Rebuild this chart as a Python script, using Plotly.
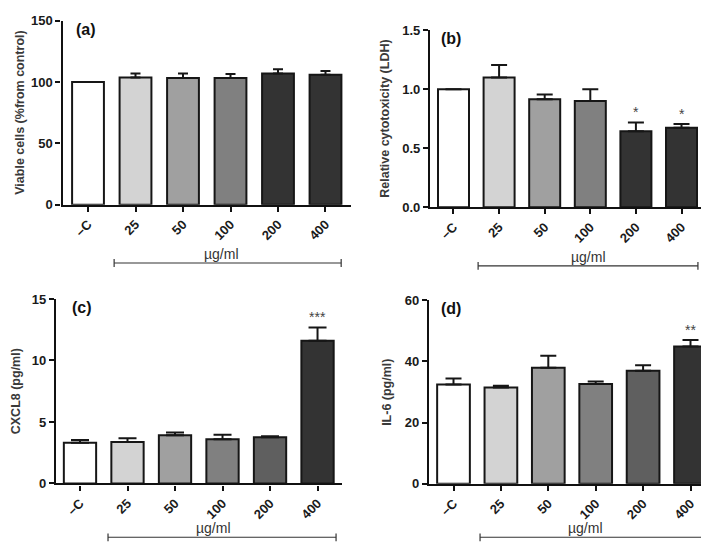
import plotly.graph_objects as go

categories = ["\u2013C", "25", "50", "100", "200", "400"]

viable = [100, 103.7, 103.3, 103.3, 107.1, 106.1]
viable_err = [0, 3.4, 3.7, 3.4, 3.4, 2.9]

ldh = [1.0, 1.10, 0.915, 0.90, 0.645, 0.675]
ldh_err = [0, 0.105, 0.041, 0.10, 0.074, 0.03]

cxcl8 = [3.32, 3.38, 3.93, 3.59, 3.75, 11.61]
cxcl8_err = [0.22, 0.29, 0.21, 0.37, 0.10, 1.08]

il6 = [32.4, 31.45, 37.9, 32.6, 36.9, 44.85]
il6_err = [2.0, 0.55, 3.9, 0.75, 1.8, 2.1]

colors_ab = ["#ffffff", "#d3d3d3", "#a0a0a0", "#808080", "#333333", "#333333"]
colors_cd = ["#ffffff", "#d3d3d3", "#a0a0a0", "#808080", "#5f5f5f", "#333333"]

W, H = 709, 547
FONT = "Liberation Sans, Arial, sans-serif"

panels = [
    dict(name="(a)", vals=viable, err=viable_err, colors=colors_ab,
         px=(54.5, 343), py=(6, 195), yrange=[0, 150], dtick=50, fmt="",
         xrange=[-0.537, 5.537], title="Viable cells (%from control)", tx=12,
         stars={}, bracket=(0.55, 5.33), by=255, bw=0.67, cap=5, lx=0.04, ushift=-6),
    dict(name="(b)", vals=ldh, err=ldh_err, colors=colors_ab,
         px=(422, 697), py=(15.7, 197.7), yrange=[0, 1.5], dtick=0.5, fmt=".1f",
         xrange=[-0.515, 5.515], title="Relative cytotoxicity (LDH)", tx=377,
         stars={4: "*", 5: "*"}, bracket=(0.54, 5.36), by=258, bw=0.68, cap=8, lx=0.033, ushift=0),
    dict(name="(c)", vals=cxcl8, err=cxcl8_err, colors=colors_cd,
         px=(48, 334), py=(292, 481.7), yrange=[0, 15], dtick=5, fmt="",
         xrange=[-0.505, 5.515], title="CXCL8 (pg/ml)", tx=8,
         stars={5: "***"}, bracket=(0.59, 5.39), by=537, bw=0.68, cap=9, lx=0.05, ushift=-9),
    dict(name="(d)", vals=il6, err=il6_err, colors=colors_cd,
         px=(421, 707), py=(293, 482), yrange=[0, 60], dtick=20, fmt="",
         xrange=[-0.517, 5.517], title="IL-6 (pg/ml)", tx=379,
         stars={5: "**"}, bracket=(0.56, 5.39), by=537, bw=0.69, cap=8, lx=0.035, ushift=-9),
]

fig = go.Figure()
annotations = []
shapes = []

for i, p in enumerate(panels):
    k = "" if i == 0 else str(i + 1)
    xa, ya = "x" + k, "y" + k
    xs = list(range(len(categories)))
    fig.add_trace(go.Bar(
        x=xs, y=p["vals"], xaxis=xa, yaxis=ya,
        marker=dict(color=p["colors"], line=dict(color="#161616", width=2)),
        width=p["bw"],
        error_y=dict(type="data", symmetric=False, array=p["err"],
                     arrayminus=[0] * len(p["err"]), color="#161616",
                     thickness=2, width=p["cap"]),
        showlegend=False, hoverinfo="skip",
    ))
    x0, x1 = p["px"]
    y0, y1 = p["py"]
    xdom = [x0 / W, x1 / W]
    ydom = [(H - y1) / H, (H - y0) / H]
    axis_common = dict(showgrid=False, zeroline=False, showline=True,
                       linecolor="#111111", linewidth=2.2, ticks="outside",
                       ticklen=5, tickwidth=2, tickcolor="#111111")
    fig.layout["xaxis" + k] = dict(
        domain=xdom, anchor=ya, range=p["xrange"], tickmode="array",
        tickvals=xs, ticktext=categories,
        tickangle=-45, tickfont=dict(family=FONT, size=13, color="#1a1a1a", weight="bold"),
        **axis_common)
    fig.layout["yaxis" + k] = dict(
        domain=ydom, anchor=xa, range=p["yrange"], dtick=p["dtick"],
        tickformat=p["fmt"],
        tickfont=dict(family=FONT, size=13, color="#1a1a1a", weight="bold"),
        **axis_common)
    # panel label
    annotations.append(dict(text="<b>" + p["name"] + "</b>", xref=xa + " domain",
                            yref=ya + " domain", x=p["lx"], y=1.01, xanchor="left",
                            yanchor="top", showarrow=False,
                            font=dict(family=FONT, size=16, color="#111111")))
    # y title
    annotations.append(dict(text="<b>" + p["title"] + "</b>", xref="paper", yref=ya + " domain",
                            x=p["tx"] / W, y=0.5, textangle=-90, showarrow=False,
                            xanchor="center", yanchor="middle",
                            font=dict(family=FONT, size=12.5, color="#3a3a3a")))
    # stars
    for idx, s in p["stars"].items():
        annotations.append(dict(text=s, xref=xa, yref=ya, x=idx,
                                y=p["vals"][idx] + p["err"][idx], yshift=0,
                                yanchor="bottom", showarrow=False,
                                font=dict(family=FONT, size=14, color="#444444")))
    # bracket for ug/ml
    bh = p["by"]
    yb = -(bh - y1) / (y1 - y0)
    cap = 4 / (y1 - y0)
    bx0, bx1 = p["bracket"]
    shapes.append(dict(type="line", xref=xa, yref=ya + " domain", x0=bx0, x1=bx1,
                       y0=yb, y1=yb, line=dict(color="#333333", width=1.2)))
    for bx in (bx0, bx1):
        shapes.append(dict(type="line", xref=xa, yref=ya + " domain", x0=bx, x1=bx,
                           y0=yb - cap, y1=yb + cap, line=dict(color="#333333", width=1.2)))
    annotations.append(dict(text="\u00b5g/ml", xref=xa, yref=ya + " domain",
                            x=(bx0 + bx1) / 2, y=yb, yanchor="bottom", yshift=-1,
                            xshift=p["ushift"], showarrow=False,
                            font=dict(family=FONT, size=14, color="#333333")))

fig.update_layout(width=W, height=H, margin=dict(l=0, r=0, t=0, b=0),
                  paper_bgcolor="white", plot_bgcolor="white",
                  annotations=annotations, shapes=shapes, bargap=0.3)

fig.write_html("out.html")
